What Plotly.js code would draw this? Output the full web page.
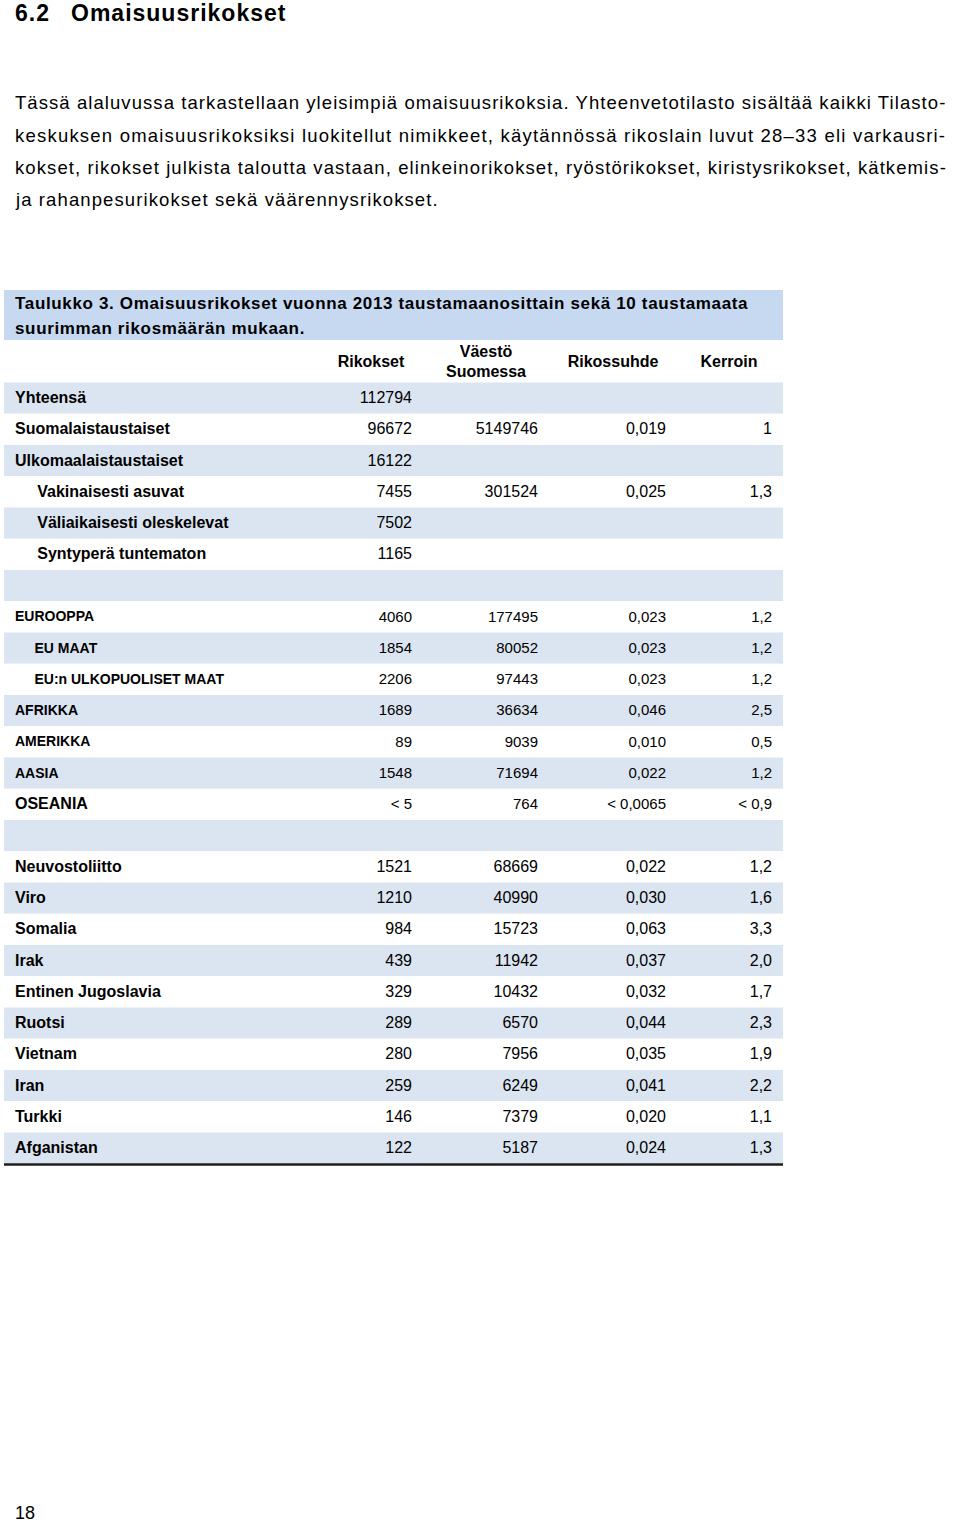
<!DOCTYPE html>
<html><head><meta charset="utf-8">
<script src="https://cdn.plot.ly/plotly-3.0.1.min.js"></script>
<style>
html,body{margin:0;padding:0;background:#fff}
#chart{width:960px;height:1523px}
#chart g.annotation[data-index="0"] text, #chart g.annotation[data-index="1"] text {letter-spacing:1px}
#chart g.annotation[data-index="2"] text {letter-spacing:1.07px}
#chart g.annotation[data-index="3"] text {letter-spacing:1.21px}
#chart g.annotation[data-index="4"] text {letter-spacing:1.09px}
#chart g.annotation[data-index="5"] text {letter-spacing:1.1px}
#chart g.annotation[data-index="6"] text, #chart g.annotation[data-index="7"] text {letter-spacing:0.65px}
</style>
</head><body><div id="chart"></div>
<script>
// ---------- DATA ----------
const headingNumber = '6.2';
const headingText = 'Omaisuusrikokset';
const paragraphLines = [
  'Tässä alaluvussa tarkastellaan yleisimpiä omaisuusrikoksia. Yhteenvetotilasto sisältää kaikki Tilasto-',
  'keskuksen omaisuusrikoksiksi luokitellut nimikkeet, käytännössä rikoslain luvut 28–33 eli varkausri-',
  'kokset, rikokset julkista taloutta vastaan, elinkeinorikokset, ryöstörikokset, kiristysrikokset, kätkemis-',
  'ja rahanpesurikokset sekä väärennysrikokset.'
];
const tableTitleLines = [
  'Taulukko 3. Omaisuusrikokset vuonna 2013 taustamaanosittain sekä 10 taustamaata',
  'suurimman rikosmäärän mukaan.'
];
const columnHeaders = ['Rikokset', 'Väestö<br>Suomessa', 'Rikossuhde', 'Kerroin'];
const rowLabels = [
  'Yhteensä', 'Suomalaistaustaiset', 'Ulkomaalaistaustaiset', 'Vakinaisesti asuvat',
  'Väliaikaisesti oleskelevat', 'Syntyperä tuntematon', '',
  'EUROOPPA', 'EU MAAT', 'EU:n ULKOPUOLISET MAAT', 'AFRIKKA', 'AMERIKKA', 'AASIA', 'OSEANIA', '',
  'Neuvostoliitto', 'Viro', 'Somalia', 'Irak', 'Entinen Jugoslavia', 'Ruotsi', 'Vietnam',
  'Iran', 'Turkki', 'Afganistan'
];
const rowGroups = [
  'total', 'main', 'main', 'sub', 'sub', 'sub', 'gap',
  'region', 'regionSub', 'regionSub', 'region', 'region', 'region', 'regionBig', 'gap',
  'country', 'country', 'country', 'country', 'country', 'country', 'country',
  'country', 'country', 'country'
];
const rikokset = ['112794', '96672', '16122', '7455', '7502', '1165', '',
  '4060', '1854', '2206', '1689', '89', '1548', '< 5', '',
  '1521', '1210', '984', '439', '329', '289', '280', '259', '146', '122'];
const vaesto = ['', '5149746', '', '301524', '', '', '',
  '177495', '80052', '97443', '36634', '9039', '71694', '764', '',
  '68669', '40990', '15723', '11942', '10432', '6570', '7956', '6249', '7379', '5187'];
const rikossuhde = ['', '0,019', '', '0,025', '', '', '',
  '0,023', '0,023', '0,023', '0,046', '0,010', '0,022', '< 0,0065', '',
  '0,022', '0,030', '0,063', '0,037', '0,032', '0,044', '0,035', '0,041', '0,020', '0,024'];
const kerroin = ['', '1', '', '1,3', '', '', '',
  '1,2', '1,2', '1,2', '2,5', '0,5', '1,2', '< 0,9', '',
  '1,2', '1,6', '3,3', '2,0', '1,7', '2,3', '1,9', '2,2', '1,1', '1,3'];
const pageNumber = '18';

// ---------- LAYOUT CONSTANTS ----------
const W = 960, H = 1523;
const FONT = 'Liberation Sans, Arial, Helvetica, sans-serif';
const ROW0 = 399, PITCH = 31.25;            // pixel centre of first row, row pitch
const TABLE_L = 4, TABLE_R = 783;
const LABEL_X = 15;
const NUM_RIGHT = [412, 538, 666, 772];
const HEAD_CX = [371, 486, 613, 729];
const BAND = '#dbe5f1', TITLE_BAND = '#c6d9f1';
const v = p => (p - ROW0) / PITCH;           // pixel -> row units
const py = p => 1 - p / H;
const NB = '\u00a0';

const rows = rowLabels.map((_, i) => i);
const isRegion = g => g === 'region' || g === 'regionSub' || g === 'regionBig';

// band bars (one per table row, alternating)
const bands = {
  type: 'bar', orientation: 'h',
  y: rows.map(i => i - 0.03), x: rows.map(() => TABLE_R - TABLE_L), base: TABLE_L, width: 1,
  marker: {color: rows.map(i => i % 2 === 0 ? BAND : '#ffffff'), line: {width: 0}},
  hoverinfo: 'skip', showlegend: false
};

// labels
const labelText = rowLabels.map((t, i) => {
  if (!t) return '';
  const g = rowGroups[i];
  const indent = (g === 'sub' || g === 'regionSub') ? NB.repeat(5) : '';
  return indent + '<b>' + t.replace(/ /g, NB) + '</b>';
});
const labelSize = rowGroups.map(g => (g === 'region' || g === 'regionSub') ? 14 : 16);
const labels = {
  type: 'scatter', mode: 'text', x: rows.map(() => LABEL_X), y: rows,
  text: labelText, textposition: 'middle right',
  textfont: {family: FONT, size: labelSize, color: '#000'},
  hoverinfo: 'skip', showlegend: false
};

const numCols = [rikokset, vaesto, rikossuhde, kerroin];
const numSize = rowGroups.map(g => isRegion(g) ? 15 : 16);
const numTraces = numCols.map((col, c) => ({
  type: 'scatter', mode: 'text', x: rows.map(() => NUM_RIGHT[c]), y: rows,
  text: col.map(s => s.replace(/ /g, NB)), textposition: 'middle left',
  textfont: {family: FONT, size: numSize, color: '#000'},
  hoverinfo: 'skip', showlegend: false
}));

const headerTrace = {
  type: 'scatter', mode: 'text', x: HEAD_CX, y: HEAD_CX.map(() => v(363)),
  text: columnHeaders.map(h => '<b>' + h + '</b>'), textposition: 'middle center',
  textfont: {family: FONT, size: 16, color: '#000'},
  hoverinfo: 'skip', showlegend: false
};

const annotations = [];
const ann = (text, x, y, size, bold) => annotations.push({
  xref: 'paper', yref: 'paper', x: x / W, y: py(y), xanchor: 'left', yanchor: 'middle',
  text: bold ? '<b>' + text + '</b>' : text, showarrow: false, borderpad: 0, borderwidth: 0,
  font: {family: FONT, size: size, color: '#000'}, align: 'left'
});
ann(headingNumber, 15, 13, 23, true);
ann(headingText, 71, 13, 23, true);
paragraphLines.forEach((t, i) => ann(t, 15, 103 + i * 32, 18.5, false));
tableTitleLines.forEach((t, i) => ann(t, 15, 303 + i * 25, 17, true));
ann(pageNumber, 15, 1513, 18, false);

const shapes = [
  {type: 'rect', xref: 'paper', yref: 'paper', x0: TABLE_L / W, x1: TABLE_R / W, y0: py(340), y1: py(290),
   fillcolor: TITLE_BAND, line: {width: 0}, layer: 'below'},
  {type: 'line', xref: 'paper', yref: 'paper', x0: TABLE_L / W, x1: TABLE_R / W, y0: py(1164.5), y1: py(1164.5),
   line: {color: '#1e1e1e', width: 2.5}}
];

const layout = {
  width: W, height: H, margin: {l: 0, r: 0, t: 0, b: 0},
  paper_bgcolor: '#fff', plot_bgcolor: '#fff',
  xaxis: {range: [0, W], visible: false, fixedrange: true},
  yaxis: {range: [v(H), v(0)], visible: false, fixedrange: true},
  showlegend: false, hovermode: false, barmode: 'overlay',
  annotations: annotations, shapes: shapes
};

Plotly.newPlot('chart', [bands, labels, ...numTraces, headerTrace], layout, {staticPlot: true, displayModeBar: false});
</script>
</body></html>
